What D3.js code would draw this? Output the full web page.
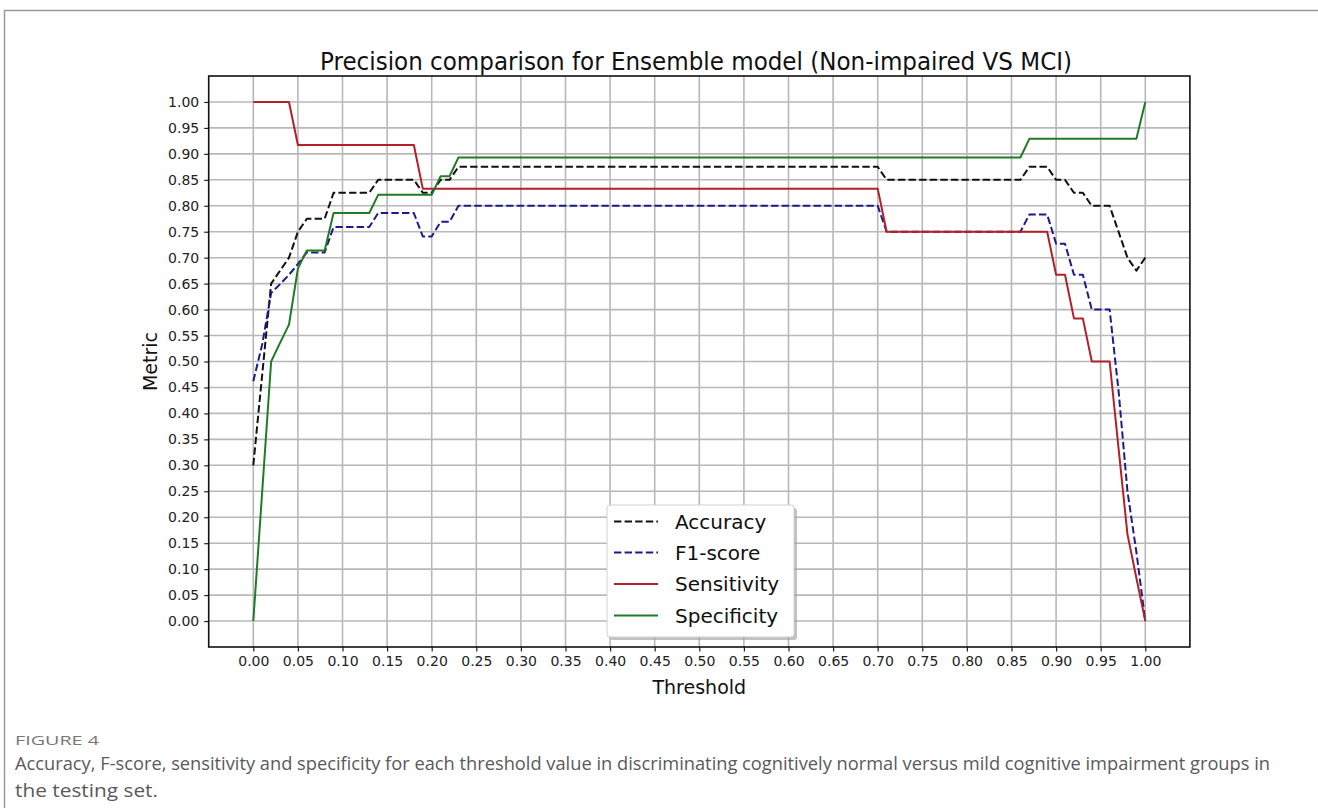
<!DOCTYPE html>
<html>
<head>
<meta charset="utf-8">
<script src="https://cdn.jsdelivr.net/npm/d3@7"></script>
<style>
  html, body { margin: 0; padding: 0; background: #fff; }
  svg { display: block; }
</style>
</head>
<body>
<svg id="chart" width="1318" height="808"></svg>
<script>
// ---------- data ----------
const thresholds = [0.00, 0.01, 0.02, 0.03, 0.04, 0.05, 0.06, 0.08, 0.09, 0.13, 0.14, 0.18, 0.19, 0.20, 0.21, 0.22, 0.23, 0.70, 0.71, 0.86, 0.87, 0.89, 0.90, 0.91, 0.92, 0.93, 0.94, 0.96, 0.97, 0.98, 0.99, 1.00];
const accuracy    = [0.300, 0.475, 0.650, 0.675, 0.700, 0.750, 0.775, 0.775, 0.825, 0.825, 0.850, 0.850, 0.825, 0.825, 0.850, 0.850, 0.875, 0.875, 0.850, 0.850, 0.875, 0.875, 0.850, 0.850, 0.825, 0.825, 0.800, 0.800, 0.750, 0.700, 0.675, 0.700];
const f1score     = [0.462, 0.533, 0.632, 0.649, 0.667, 0.688, 0.710, 0.710, 0.759, 0.759, 0.786, 0.786, 0.741, 0.741, 0.769, 0.769, 0.800, 0.800, 0.750, 0.750, 0.783, 0.783, 0.727, 0.727, 0.667, 0.667, 0.600, 0.600, 0.444, 0.250, 0.133, 0.000];
const sensitivity = [1.000, 1.000, 1.000, 1.000, 1.000, 0.917, 0.917, 0.917, 0.917, 0.917, 0.917, 0.917, 0.833, 0.833, 0.833, 0.833, 0.833, 0.833, 0.750, 0.750, 0.750, 0.750, 0.667, 0.667, 0.583, 0.583, 0.500, 0.500, 0.333, 0.167, 0.083, 0.000];
const specificity = [0.000, 0.250, 0.500, 0.536, 0.571, 0.679, 0.714, 0.714, 0.786, 0.786, 0.821, 0.821, 0.821, 0.821, 0.857, 0.857, 0.893, 0.893, 0.893, 0.893, 0.929, 0.929, 0.929, 0.929, 0.929, 0.929, 0.929, 0.929, 0.929, 0.929, 0.929, 1.000];

const seriesNames = ["Accuracy", "F1-score", "Sensitivity", "Specificity"];
const tickValues = [0.00, 0.05, 0.10, 0.15, 0.20, 0.25, 0.30, 0.35, 0.40, 0.45, 0.50, 0.55, 0.60, 0.65, 0.70, 0.75, 0.80, 0.85, 0.90, 0.95, 1.00];

const titleText = "Precision comparison for Ensemble model (Non-impaired VS MCI)";
const xLabel = "Threshold";
const yLabel = "Metric";
const figLabel = "FIGURE 4";
const captionLines = [
  "Accuracy, F-score, sensitivity and specificity for each threshold value in discriminating cognitively normal versus mild cognitive impairment groups in",
  "the testing set."
];

// ---------- styles ----------
const styles = {
  "Accuracy":    { color: "#111111", dash: "7.4,3.2" },
  "F1-score":    { color: "#1b1b8a", dash: "7.4,3.2" },
  "Sensitivity": { color: "#b3202a", dash: null },
  "Specificity": { color: "#207a26", dash: null }
};
const seriesData = {
  "Accuracy": accuracy,
  "F1-score": f1score,
  "Sensitivity": sensitivity,
  "Specificity": specificity
};

const svg = d3.select("#chart");
const FONT = "'DejaVu Sans', sans-serif";
const CAPFONT = "'Open Sans', sans-serif";

// page frame
svg.append("path")
  .attr("d", "M4.5,808 L4.5,10.5 L1318,10.5")
  .attr("fill", "none").attr("stroke", "#9a9a9a").attr("stroke-width", 1.5);

const plot = { left: 208.7, right: 1189.9, top: 76, bottom: 647 };
const x = d3.scaleLinear().domain([-0.05, 1.05]).range([plot.left, plot.right]);
const y = d3.scaleLinear().domain([-0.05, 1.05]).range([plot.bottom, plot.top]);

// grid
const grid = svg.append("g");
grid.selectAll("line.gx").data(tickValues).join("line")
  .attr("x1", d => x(d)).attr("x2", d => x(d))
  .attr("y1", plot.top).attr("y2", plot.bottom)
  .attr("stroke", "#b8b8b8").attr("stroke-width", 1.6);
grid.selectAll("line.gy").data(tickValues).join("line")
  .attr("y1", d => y(d)).attr("y2", d => y(d))
  .attr("x1", plot.left).attr("x2", plot.right)
  .attr("stroke", "#b8b8b8").attr("stroke-width", 1.6);

// axes
const xAxis = d3.axisBottom(x).tickValues(tickValues).tickFormat(d3.format(".2f")).tickSize(4.5).tickPadding(5);
const yAxis = d3.axisLeft(y).tickValues(tickValues).tickFormat(d3.format(".2f")).tickSize(4.5).tickPadding(5);

const gx = svg.append("g").attr("transform", `translate(0,${plot.bottom})`).call(xAxis);
const gy = svg.append("g").attr("transform", `translate(${plot.left},0)`).call(yAxis);
[gx, gy].forEach(g => {
  g.select(".domain").remove();
  g.selectAll(".tick line").attr("stroke", "#222").attr("stroke-width", 1.2);
  g.selectAll(".tick text").attr("font-family", FONT).attr("font-size", 14).attr("fill", "#222");
});

// lines
const line = d3.line().x((d, i) => x(thresholds[i])).y(d => y(d));
svg.append("clipPath").attr("id", "clip").append("rect")
  .attr("x", plot.left).attr("y", plot.top)
  .attr("width", plot.right - plot.left).attr("height", plot.bottom - plot.top);

const linesG = svg.append("g").attr("clip-path", "url(#clip)");
seriesNames.forEach(name => {
  const st = styles[name];
  linesG.append("path")
    .datum(seriesData[name])
    .attr("d", line)
    .attr("fill", "none")
    .attr("stroke", st.color)
    .attr("stroke-width", 2)
    .attr("stroke-linejoin", "round")
    .attr("stroke-dasharray", st.dash);
});

// frame
svg.append("rect")
  .attr("x", plot.left).attr("y", plot.top)
  .attr("width", plot.right - plot.left).attr("height", plot.bottom - plot.top)
  .attr("fill", "none").attr("stroke", "#111").attr("stroke-width", 1.6);

// title & labels
svg.append("text")
  .attr("x", 696).attr("y", 70)
  .attr("text-anchor", "middle")
  .attr("font-family", FONT).attr("font-size", 24).attr("fill", "#111")
  .attr("textLength", 752).attr("lengthAdjust", "spacingAndGlyphs")
  .text(titleText);

svg.append("text")
  .attr("x", (plot.left + plot.right) / 2).attr("y", 694)
  .attr("text-anchor", "middle")
  .attr("font-family", FONT).attr("font-size", 19).attr("fill", "#111")
  .text(xLabel);

svg.append("text")
  .attr("transform", `translate(157,${(plot.top + plot.bottom) / 2}) rotate(-90)`)
  .attr("text-anchor", "middle")
  .attr("font-family", FONT).attr("font-size", 19).attr("fill", "#111")
  .text(yLabel);

// legend
const leg = { x: 607, y: 505, w: 187, h: 132 };
svg.append("rect")
  .attr("x", leg.x + 3).attr("y", leg.y + 3).attr("width", leg.w).attr("height", leg.h)
  .attr("rx", 3).attr("fill", "#999").attr("opacity", 0.6);
svg.append("rect")
  .attr("x", leg.x).attr("y", leg.y).attr("width", leg.w).attr("height", leg.h)
  .attr("rx", 3).attr("fill", "#fff").attr("stroke", "#d0d0d0").attr("stroke-width", 1);
const rowY = [521.5, 552.5, 584, 615.5];
seriesNames.forEach((name, i) => {
  const st = styles[name];
  svg.append("line")
    .attr("x1", 614).attr("x2", 658)
    .attr("y1", rowY[i]).attr("y2", rowY[i])
    .attr("stroke", st.color).attr("stroke-width", 2)
    .attr("stroke-dasharray", st.dash);
  svg.append("text")
    .attr("x", 675).attr("y", rowY[i]).attr("dy", "0.36em")
    .attr("font-family", FONT).attr("font-size", 20).attr("fill", "#111")
    .text(name);
});

// caption
svg.append("text")
  .attr("x", 15).attr("y", 745)
  .attr("font-family", CAPFONT).attr("font-size", 13)
  .attr("fill", "#777")
  .attr("textLength", 84).attr("lengthAdjust", "spacingAndGlyphs")
  .text(figLabel);
const capLen = [1255, 143];
captionLines.forEach((t, i) => {
  svg.append("text")
    .attr("x", 15).attr("y", 770 + i * 27)
    .attr("font-family", CAPFONT).attr("font-size", 18)
    .attr("fill", "#5a5a5a")
    .attr("textLength", capLen[i]).attr("lengthAdjust", "spacingAndGlyphs")
    .text(t);
});
</script>
</body>
</html>
